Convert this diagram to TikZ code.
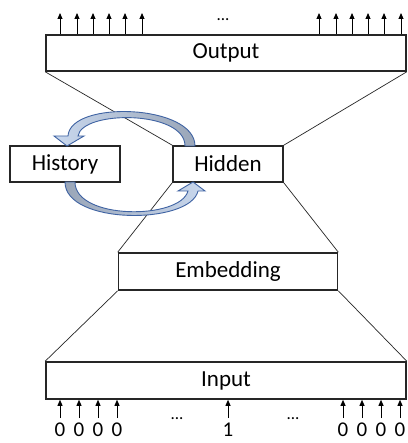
\documentclass[tikz,border=0pt]{standalone}
\usepackage{fontspec}
\setmainfont{Carlito}
\usetikzlibrary{arrows.meta}
\definecolor{arcblue}{HTML}{3F63A3}
\definecolor{arclight}{HTML}{C9D8EE}
\definecolor{arcgray}{HTML}{9AA6B8}
\begin{document}
\begin{tikzpicture}[x=1pt,y=-1pt,
  box/.style={draw=black!85,line width=1.6pt,fill=white,inner sep=0pt,font=\fontsize{23}{27}\selectfont},
  thin/.style={draw=black!85,line width=0.7pt},
  arr/.style={draw=black,line width=0.9pt,-{Triangle[length=6pt,width=5pt]}},
  lbl/.style={font=\fontsize{21}{23}\selectfont,inner sep=0pt,anchor=base},
  dots/.style={font=\fontsize{17}{20}\selectfont,inner sep=0pt,anchor=base},
  fat/.style={draw=arcblue,line width=0.9pt}]
\useasboundingbox (0,0) rectangle (407,443);
\fill[white] (0,0) rectangle (407,443);

% boxes
\node[box,minimum width=360pt,minimum height=36pt] (out) at (226,53) {Output};
\node[box,minimum width=110pt,minimum height=36pt] (hid) at (228,164) {Hidden};
\node[box,minimum width=110pt,minimum height=36pt] (his) at (65,164) {History};
\node[box,minimum width=219pt,minimum height=37pt] (emb) at (228,271.5) {Embedding};
\node[box,minimum width=360pt,minimum height=37pt] (in) at (226,380.5) {Input};

% trapezoid lines
\draw[thin] (out.south west) -- (hid.north west);
\draw[thin] (out.south east) -- (hid.north east);
\draw[thin] (hid.south west) -- (emb.north west);
\draw[thin] (hid.south east) -- (emb.north east);
\draw[thin] (emb.south west) -- (in.north west);
\draw[thin] (emb.south east) -- (in.north east);

% output arrows
\foreach \x [count=\i] in {60,77,93,109,125,142,319,336,352,368,384,401}{
  \coordinate (ot\i) at (\x,13);
  \draw[arr] (out.north -| ot\i) -- (ot\i);
}
\node[dots] (odots) at (223,21) {...};

% input arrows and labels
\foreach \x [count=\i] in {60,79,98,117,343,362,381,400}{
  \coordinate (ib\i) at (\x,418);
  \draw[arr] (ib\i) -- (ib\i |- in.south);
  \node[lbl] (d\i) at (\x,436.5) {0};
}
\coordinate (ibm) at (228,418);
\draw[arr] (ibm) -- (ibm |- in.south);
\node[lbl] (dm) at (228,436.5) {1};
\node[dots] (idots1) at (177,419) {...};
\node[dots] (idots2) at (293,419) {...};

% recurrent fat arrows
\path[fat,left color=arclight,right color=arcgray]
  (195,146) .. controls (195,104) and (70,100) .. (68,136)
  -- (54,136) -- (67,146) -- (84,136) -- (78,136)
  .. controls (82,110) and (185,110) .. (185,146) -- cycle;
\path[fat,left color=arcgray,right color=arclight]
  (65,182) .. controls (65,225) and (190,225) .. (198,191)
  -- (205,191) -- (193,182) -- (178,191) -- (188,191)
  .. controls (180,220) and (75,220) .. (75,182) -- cycle;
\end{tikzpicture}
\end{document}
